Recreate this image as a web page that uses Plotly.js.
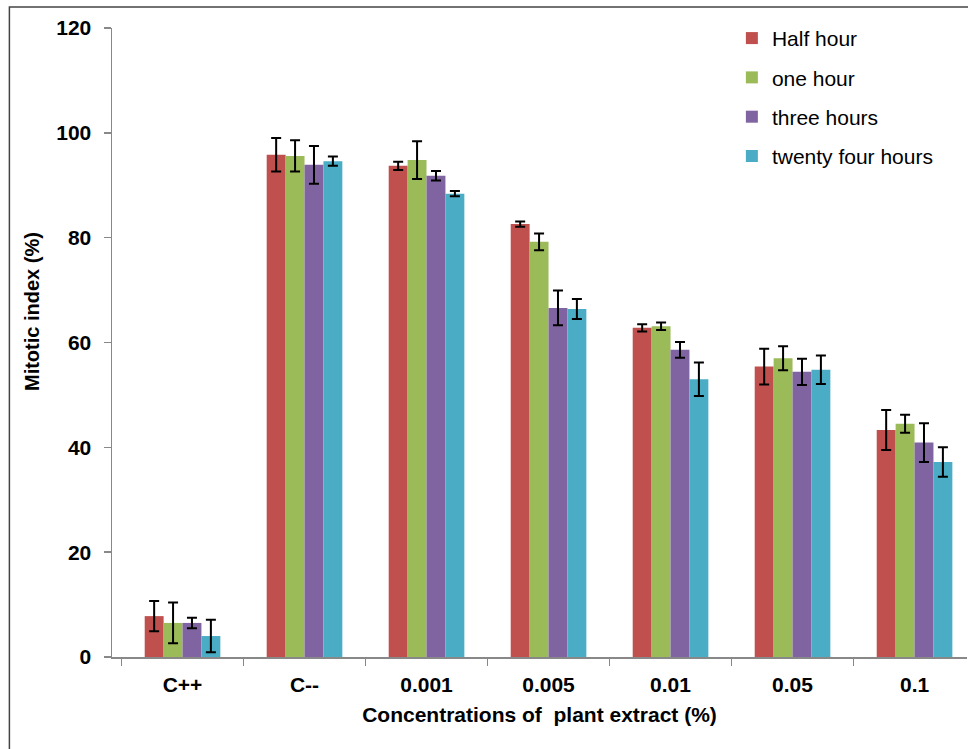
<!DOCTYPE html>
<html>
<head>
<meta charset="utf-8">
<script src="https://cdn.plot.ly/plotly-3.0.1.min.js"></script>
<style>html,body{margin:0;padding:0;background:#fff;}#chart{width:968px;height:749px;}</style>
</head>
<body>
<div id="chart"></div>
<script>
const categories = ["C++", "C--", "0.001", "0.005", "0.01", "0.05", "0.1"];
const seriesNames = ["Half hour", "one hour", "three hours", "twenty four hours"];
const halfHour = [7.8, 95.8, 93.7, 82.6, 62.8, 55.4, 43.3];
const halfHourErr = [2.9, 3.2, 0.8, 0.5, 0.7, 3.4, 3.8];
const oneHour = [6.5, 95.6, 94.8, 79.2, 63.1, 57.0, 44.5];
const oneHourErr = [3.9, 3.0, 3.6, 1.6, 0.7, 2.3, 1.7];
const threeHours = [6.5, 93.9, 91.8, 66.6, 58.6, 54.4, 40.9];
const threeHoursErr = [1.0, 3.6, 0.9, 3.3, 1.5, 2.5, 3.7];
const twentyFourHours = [4.0, 94.6, 88.4, 66.4, 53.0, 54.8, 37.2];
const twentyFourHoursErr = [3.1, 0.9, 0.5, 1.9, 3.2, 2.7, 2.8];
const yTicks = [0, 20, 40, 60, 80, 100, 120];

const colors = ["#C0504D", "#9BBB59", "#8064A2", "#4BACC6"];
const values = [halfHour, oneHour, threeHours, twentyFourHours];
const errs = [halfHourErr, oneHourErr, threeHoursErr, twentyFourHoursErr];

const font = "Liberation Sans, Arial, sans-serif";
const traces = seriesNames.map((name, i) => ({
  type: "bar",
  name: name,
  x: categories,
  y: values[i],
  legendgroup: "g" + i,
  marker: {color: colors[i], line: {width: 0}},
  error_y: {type: "data", array: errs[i], visible: true, color: "#000", thickness: 2, width: 5}
}));

const layout = {
  width: 968, height: 749,
  margin: {l: 112, r: 1, t: 28, b: 92},
  paper_bgcolor: "#fff", plot_bgcolor: "#fff",
  barmode: "group", bargap: 0.38, bargroupgap: 0,
  showlegend: true,
  legend: {
    x: 0.725, y: 1.016, xanchor: "left", yanchor: "top",
    font: {family: font, size: 21, color: "#000"},
    traceorder: "grouped", tracegroupgap: 9,
    bgcolor: "rgba(0,0,0,0)", itemwidth: 30
  },
  xaxis: {
    type: "category", range: [-0.578, 6.43],
    showline: true, linecolor: "#888", linewidth: 1.5,
    ticks: "outside", tickson: "boundaries", ticklen: 7, tickcolor: "#888", tickwidth: 1.5,
    tickfont: {family: font, size: 21, color: "#000", weight: "bold"},
    ticklabelstandoff: 8,
    showgrid: false, zeroline: false,
    title: {text: "Concentrations of  plant extract (%)", font: {family: font, size: 21, color: "#000", weight: "bold"}, standoff: 12}
  },
  yaxis: {
    range: [0, 120], tickvals: yTicks, ticktext: yTicks.map(String),
    showline: true, linecolor: "#888", linewidth: 1.5,
    ticks: "outside", ticklen: 7, tickcolor: "#888", tickwidth: 1.5,
    tickfont: {family: font, size: 21, color: "#000", weight: "bold"},
    ticklabelstandoff: 8,
    showgrid: false, zeroline: false
  },
  annotations: [{
    text: "Mitotic index (%)", xref: "paper", yref: "paper",
    x: -0.0936, y: 0.55, xanchor: "center", yanchor: "middle",
    textangle: -90, showarrow: false,
    font: {family: font, size: 20, color: "#000", weight: "bold"}
  }],
  shapes: [{
    type: "rect", xref: "paper", yref: "paper",
    x0: -0.12, x1: 1.2, y0: -0.3, y1: 1.0334,
    line: {color: "#444", width: 1.5}, fillcolor: "rgba(0,0,0,0)", layer: "below"
  }]
};

Plotly.newPlot("chart", traces, layout, {displayModeBar: false, staticPlot: true});
</script>
</body>
</html>
